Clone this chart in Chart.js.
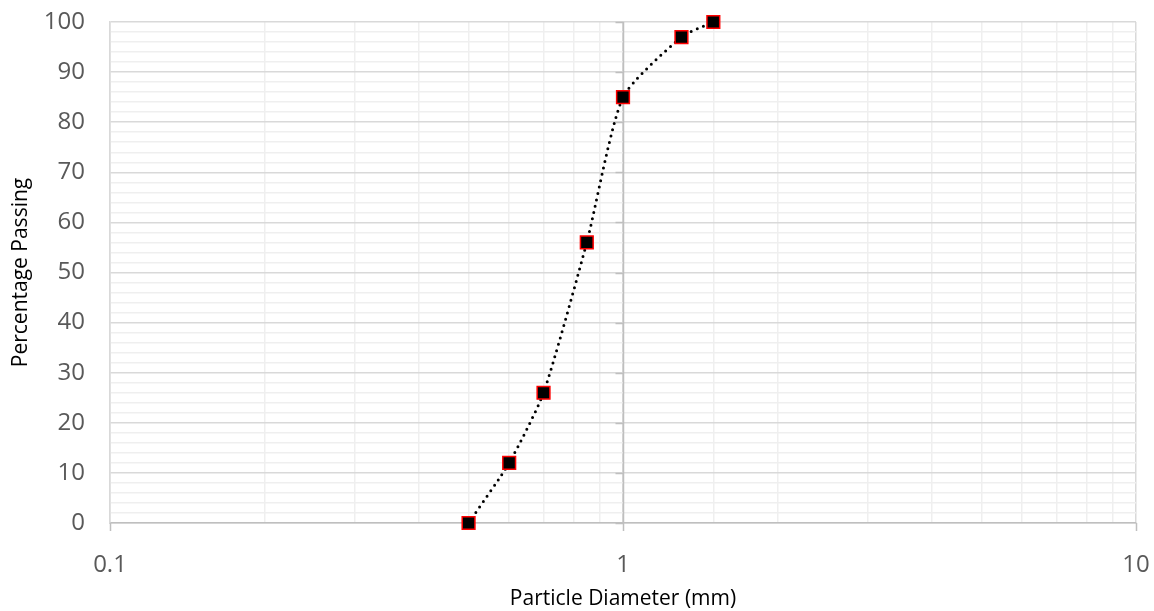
<!DOCTYPE html>
<html>
<head>
<meta charset="utf-8">
<script src="https://cdn.jsdelivr.net/npm/chart.js@4.4.1/dist/chart.umd.min.js"></script>
<style>
  html, body { margin: 0; padding: 0; background: #fff; }
  #wrap { width: 1154px; height: 611px; }
</style>
</head>
<body>
<div id="wrap"><canvas id="gradation"></canvas></div>
<script>
// Sieve analysis results
const diameters = [0.5, 0.6, 0.7, 0.85, 1.0, 1.3, 1.5];
const percentPassing = [0, 12, 26, 56, 85, 97, 100];
const xLabels = [0.1, 1, 10];
const yLabels = [0, 10, 20, 30, 40, 50, 60, 70, 80, 90, 100];

const isDecade = v => Math.abs(Math.log10(v) - Math.round(Math.log10(v))) < 1e-9;

// Vertical axis crosses the horizontal one at d = 1 mm
const crossAxis = {
  id: 'crossAxis',
  beforeDatasetsDraw(chart) {
    const { ctx, scales: { x, y } } = chart;
    const px = Math.round(x.getPixelForValue(1)) + 0.5;
    const bottom = y.getPixelForValue(0);
    ctx.save();
    ctx.strokeStyle = '#bfbfbf';
    ctx.lineWidth = 1.5;
    ctx.beginPath();
    ctx.moveTo(px, y.getPixelForValue(100));
    ctx.lineTo(px, bottom);
    yLabels.forEach(v => {
      const py = Math.round(y.getPixelForValue(v)) + 0.5;
      ctx.moveTo(px - 8, py);
      ctx.lineTo(px, py);
    });
    // tick marks below the horizontal axis at each decade
    xLabels.forEach(v => {
      const tx = Math.round(x.getPixelForValue(v)) + 0.5;
      ctx.moveTo(tx, bottom);
      ctx.lineTo(tx, bottom + 8);
    });
    ctx.stroke();
    ctx.restore();
  }
};

const ctx = document.getElementById('gradation').getContext('2d');
new Chart(ctx, {
  type: 'scatter',
  data: {
    datasets: [{
      data: diameters.map((d, i) => ({ x: d, y: percentPassing[i] })),
      showLine: true,
      clip: false,
      tension: 0.2,
      borderColor: '#000',
      borderWidth: 3,
      borderDash: [0, 6.5],
      borderCapStyle: 'round',
      pointStyle: 'rect',
      pointRadius: 9,
      pointHoverRadius: 9,
      pointBackgroundColor: '#000',
      pointBorderColor: '#ff0000',
      pointBorderWidth: 1.5
    }]
  },
  plugins: [crossAxis],
  options: {
    responsive: true,
    maintainAspectRatio: false,
    animation: false,
    layout: { padding: { top: 22, right: 18, left: 0, bottom: 0 } },
    plugins: {
      legend: { display: false },
      tooltip: { enabled: false }
    },
    scales: {
      x: {
        type: 'logarithmic',
        min: 0.1,
        max: 10,
        afterFit: s => {
          s.height = 88;
          s.paddingLeft = 0;
          s.paddingRight = 0;
        },
        border: { color: '#bfbfbf', width: 1.5 },
        grid: {
          color: c => c.tick && isDecade(c.tick.value) ? '#d9d9d9' : '#efefef',
          lineWidth: 1.5,
          tickLength: 8,
          tickColor: 'rgba(0,0,0,0)'
        },
        ticks: {
          autoSkip: false,
          maxRotation: 0,
          padding: 20,
          color: '#595959',
          font: { family: 'Open Sans', size: 24 },
          callback: v => xLabels.some(l => Math.abs(l - v) < 1e-9) ? String(v) : ''
        },
        title: {
          display: true,
          text: 'Particle Diameter (mm)',
          color: '#000',
          font: { family: 'Open Sans', size: 21 },
          padding: { top: 4, bottom: -1 }
        }
      },
      y: {
        min: 0,
        max: 100,
        afterFit: s => {
          s.width = 110;
          s.paddingTop = 0;
          s.paddingBottom = 0;
        },
        border: { color: '#d9d9d9', width: 1.5 },
        grid: {
          color: c => c.tick && c.tick.value % 10 === 0 ? '#d9d9d9' : '#efefef',
          lineWidth: 1.5,
          drawTicks: false
        },
        ticks: {
          stepSize: 2,
          autoSkip: false,
          padding: 25,
          color: '#595959',
          font: { family: 'Open Sans', size: 24 },
          callback: v => yLabels.includes(v) ? String(v) : ''
        },
        title: {
          display: true,
          text: 'Percentage Passing',
          color: '#000',
          font: { family: 'Open Sans', size: 21 },
          padding: { top: 8, bottom: 0 }
        }
      }
    }
  }
});
</script>
</body>
</html>
